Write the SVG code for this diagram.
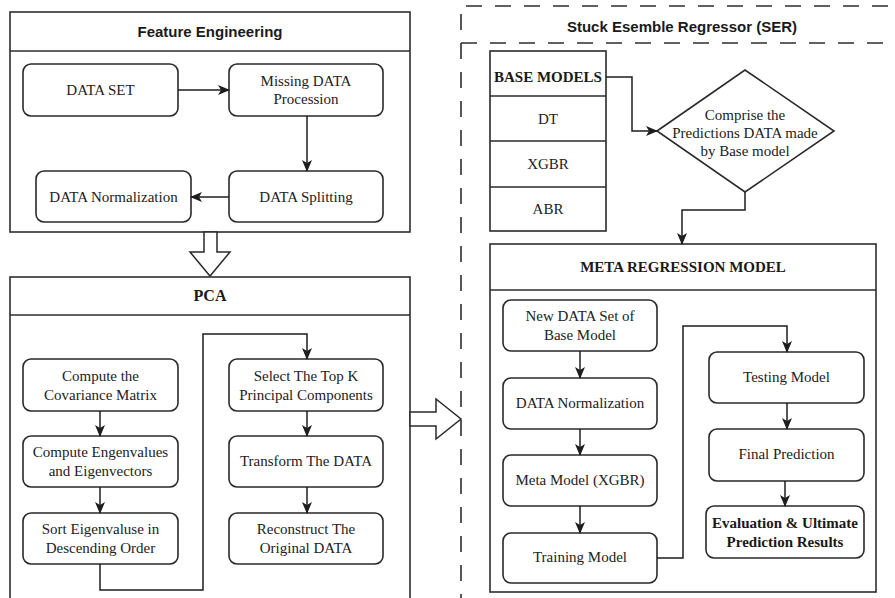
<svg xmlns="http://www.w3.org/2000/svg" width="895" height="598" viewBox="0 0 895 598">
  <defs>
    <style>
      .frame { fill: #fff; stroke: #2e2e2e; stroke-width: 1.6; }
      .dash { fill: none; stroke: #2e2e2e; stroke-width: 1.6; stroke-dasharray: 16 13; }
      .node rect, .node polygon { fill: #fff; stroke: #2a2a2a; stroke-width: 1.6; }
      .cell { fill: none; stroke: #2a2a2a; stroke-width: 1.6; }
      .t { font-family: "Liberation Serif", "Times New Roman", serif; font-size: 15px; fill: #222; text-anchor: middle; }
      .tb { font-family: "Liberation Serif", "Times New Roman", serif; font-size: 15px; font-weight: bold; fill: #1a1a1a; text-anchor: middle; }
      .hs { font-family: "Liberation Sans", Arial, sans-serif; font-size: 15px; font-weight: bold; fill: #1a1a1a; text-anchor: middle; }
      .conn path { fill: none; stroke: #1e1e1e; stroke-width: 1.5; marker-end: url(#arrow); }
      .block { fill: #fff; stroke: #2a2a2a; stroke-width: 1.5; stroke-linejoin: miter; }
    </style>
    <marker id="arrow" viewBox="0 0 12 10" refX="11" refY="5" markerWidth="12" markerHeight="10" markerUnits="userSpaceOnUse" orient="auto">
      <path d="M0,0 L12,5 L0,10 L3,5 Z" fill="#1e1e1e"/>
    </marker>
  </defs>

  <!-- Feature Engineering container -->
  <g id="feature-engineering">
    <rect class="frame" x="10" y="12" width="400" height="220"/>
    <line class="frame" x1="10" y1="51" x2="410" y2="51"/>
    <text class="hs" x="210" y="37">Feature Engineering</text>
  </g>
  <g id="data-set" class="node">
    <rect x="23" y="64" width="155" height="52" rx="8"/>
    <text class="t" x="100.5" y="95">DATA SET</text>
  </g>
  <g id="missing-data" class="node">
    <rect x="229" y="64" width="154" height="52" rx="8"/>
    <text class="t" x="306" y="86">Missing DATA</text>
    <text class="t" x="306" y="104">Procession</text>
  </g>
  <g id="data-splitting" class="node">
    <rect x="229" y="171" width="154" height="51" rx="8"/>
    <text class="t" x="306" y="202">DATA Splitting</text>
  </g>
  <g id="data-normalization-fe" class="node">
    <rect x="36" y="171" width="155" height="51" rx="8"/>
    <text class="t" x="113.5" y="202">DATA Normalization</text>
  </g>

  <!-- PCA container -->
  <g id="pca">
    <rect class="frame" x="10" y="277" width="400" height="330"/>
    <line class="frame" x1="10" y1="315" x2="410" y2="315"/>
    <text class="tb" x="210" y="301" style="font-size:16px">PCA</text>
  </g>
  <g id="covariance" class="node">
    <rect x="23" y="359" width="155" height="52" rx="8"/>
    <text class="t" x="100.5" y="381">Compute the</text>
    <text class="t" x="100.5" y="400">Covariance Matrix</text>
  </g>
  <g id="eigen" class="node">
    <rect x="23" y="436" width="155" height="51" rx="8"/>
    <text class="t" x="100.5" y="457">Compute Engenvalues</text>
    <text class="t" x="100.5" y="476">and Eigenvectors</text>
  </g>
  <g id="sort" class="node">
    <rect x="23" y="513" width="155" height="51" rx="8"/>
    <text class="t" x="100.5" y="534">Sort Eigenvaluse in</text>
    <text class="t" x="100.5" y="553">Descending Order</text>
  </g>
  <g id="select-k" class="node">
    <rect x="229" y="359" width="154" height="52" rx="8"/>
    <text class="t" x="306" y="381">Select The Top K</text>
    <text class="t" x="306" y="400">Principal Components</text>
  </g>
  <g id="transform" class="node">
    <rect x="229" y="436" width="154" height="51" rx="8"/>
    <text class="t" x="306" y="466">Transform The DATA</text>
  </g>
  <g id="reconstruct" class="node">
    <rect x="229" y="513" width="154" height="51" rx="8"/>
    <text class="t" x="306" y="534">Reconstruct The</text>
    <text class="t" x="306" y="553">Original DATA</text>
  </g>

  <!-- Stacked ensemble regressor container (dashed) -->
  <g id="ser">
    <path class="dash" d="M461,610 V6 H900"/>
    <line class="dash" x1="461" y1="43" x2="900" y2="43"/>
    <text class="hs" x="682" y="32">Stuck Esemble Regressor (SER)</text>
  </g>
  <g id="base-models" class="node">
    <rect x="490" y="51" width="116" height="180"/>
    <line class="cell" x1="490" y1="96" x2="606" y2="96"/>
    <line class="cell" x1="490" y1="141" x2="606" y2="141"/>
    <line class="cell" x1="490" y1="187" x2="606" y2="187"/>
    <text class="tb" x="548" y="82">BASE MODELS</text>
    <text class="t" x="548" y="124">DT</text>
    <text class="t" x="548" y="169">XGBR</text>
    <text class="t" x="548" y="214">ABR</text>
  </g>
  <g id="comprise" class="node">
    <polygon points="657,131 745,70 834,131 745,192"/>
    <text class="t" x="745" y="120">Comprise the</text>
    <text class="t" x="745" y="138">Predictions DATA made</text>
    <text class="t" x="745" y="156">by Base model</text>
  </g>

  <!-- Meta regression container -->
  <g id="meta-regression">
    <rect class="frame" x="490" y="244" width="386" height="348"/>
    <line class="frame" x1="490" y1="290" x2="876" y2="290"/>
    <text class="tb" x="683" y="272">META REGRESSION MODEL</text>
  </g>
  <g id="new-data-set" class="node">
    <rect x="503" y="300" width="154" height="51" rx="8"/>
    <text class="t" x="580" y="321">New DATA Set of</text>
    <text class="t" x="580" y="340">Base Model</text>
  </g>
  <g id="data-normalization-meta" class="node">
    <rect x="503" y="378" width="154" height="51" rx="8"/>
    <text class="t" x="580" y="408">DATA Normalization</text>
  </g>
  <g id="meta-model" class="node">
    <rect x="503" y="455" width="154" height="51" rx="8"/>
    <text class="t" x="580" y="485">Meta Model (XGBR)</text>
  </g>
  <g id="training" class="node">
    <rect x="503" y="533" width="154" height="50" rx="8"/>
    <text class="t" x="580" y="562">Training Model</text>
  </g>
  <g id="testing" class="node">
    <rect x="709" y="352" width="155" height="51" rx="8"/>
    <text class="t" x="786.5" y="382">Testing Model</text>
  </g>
  <g id="final-prediction" class="node">
    <rect x="709" y="429" width="155" height="52" rx="8"/>
    <text class="t" x="786.5" y="459">Final Prediction</text>
  </g>
  <g id="evaluation" class="node">
    <rect x="706" y="506" width="158" height="52" rx="8"/>
    <text class="tb" x="785" y="528">Evaluation &amp; Ultimate</text>
    <text class="tb" x="785" y="547">Prediction Results</text>
  </g>

  <!-- Hollow block arrows between stages -->
  <g id="block-arrows">
    <polygon class="block" points="204,232 217,232 217,252 230,252 210,276 190,252 204,252"/>
    <polygon class="block" points="410,412 436,412 436,399 461,419 436,439 436,426 410,426"/>
  </g>

  <!-- Connectors -->
  <g id="connectors" class="conn">
    <path d="M178,90 H229"/>
    <path d="M307,116 V171"/>
    <path d="M229,197 H191"/>

    <path d="M100,411 V436"/>
    <path d="M100,487 V513"/>
    <path d="M100,564 V590 H203 V334 H307 V359"/>
    <path d="M307,411 V436"/>
    <path d="M307,487 V513"/>

    <path d="M606,77 H632 V131 H657"/>
    <path d="M745,192 V210 H682 V244"/>

    <path d="M580,351 V378"/>
    <path d="M580,429 V455"/>
    <path d="M580,506 V533"/>
    <path d="M657,558 H683 V326 H787 V352"/>
    <path d="M787,403 V429"/>
    <path d="M785,481 V506"/>
  </g>
</svg>
